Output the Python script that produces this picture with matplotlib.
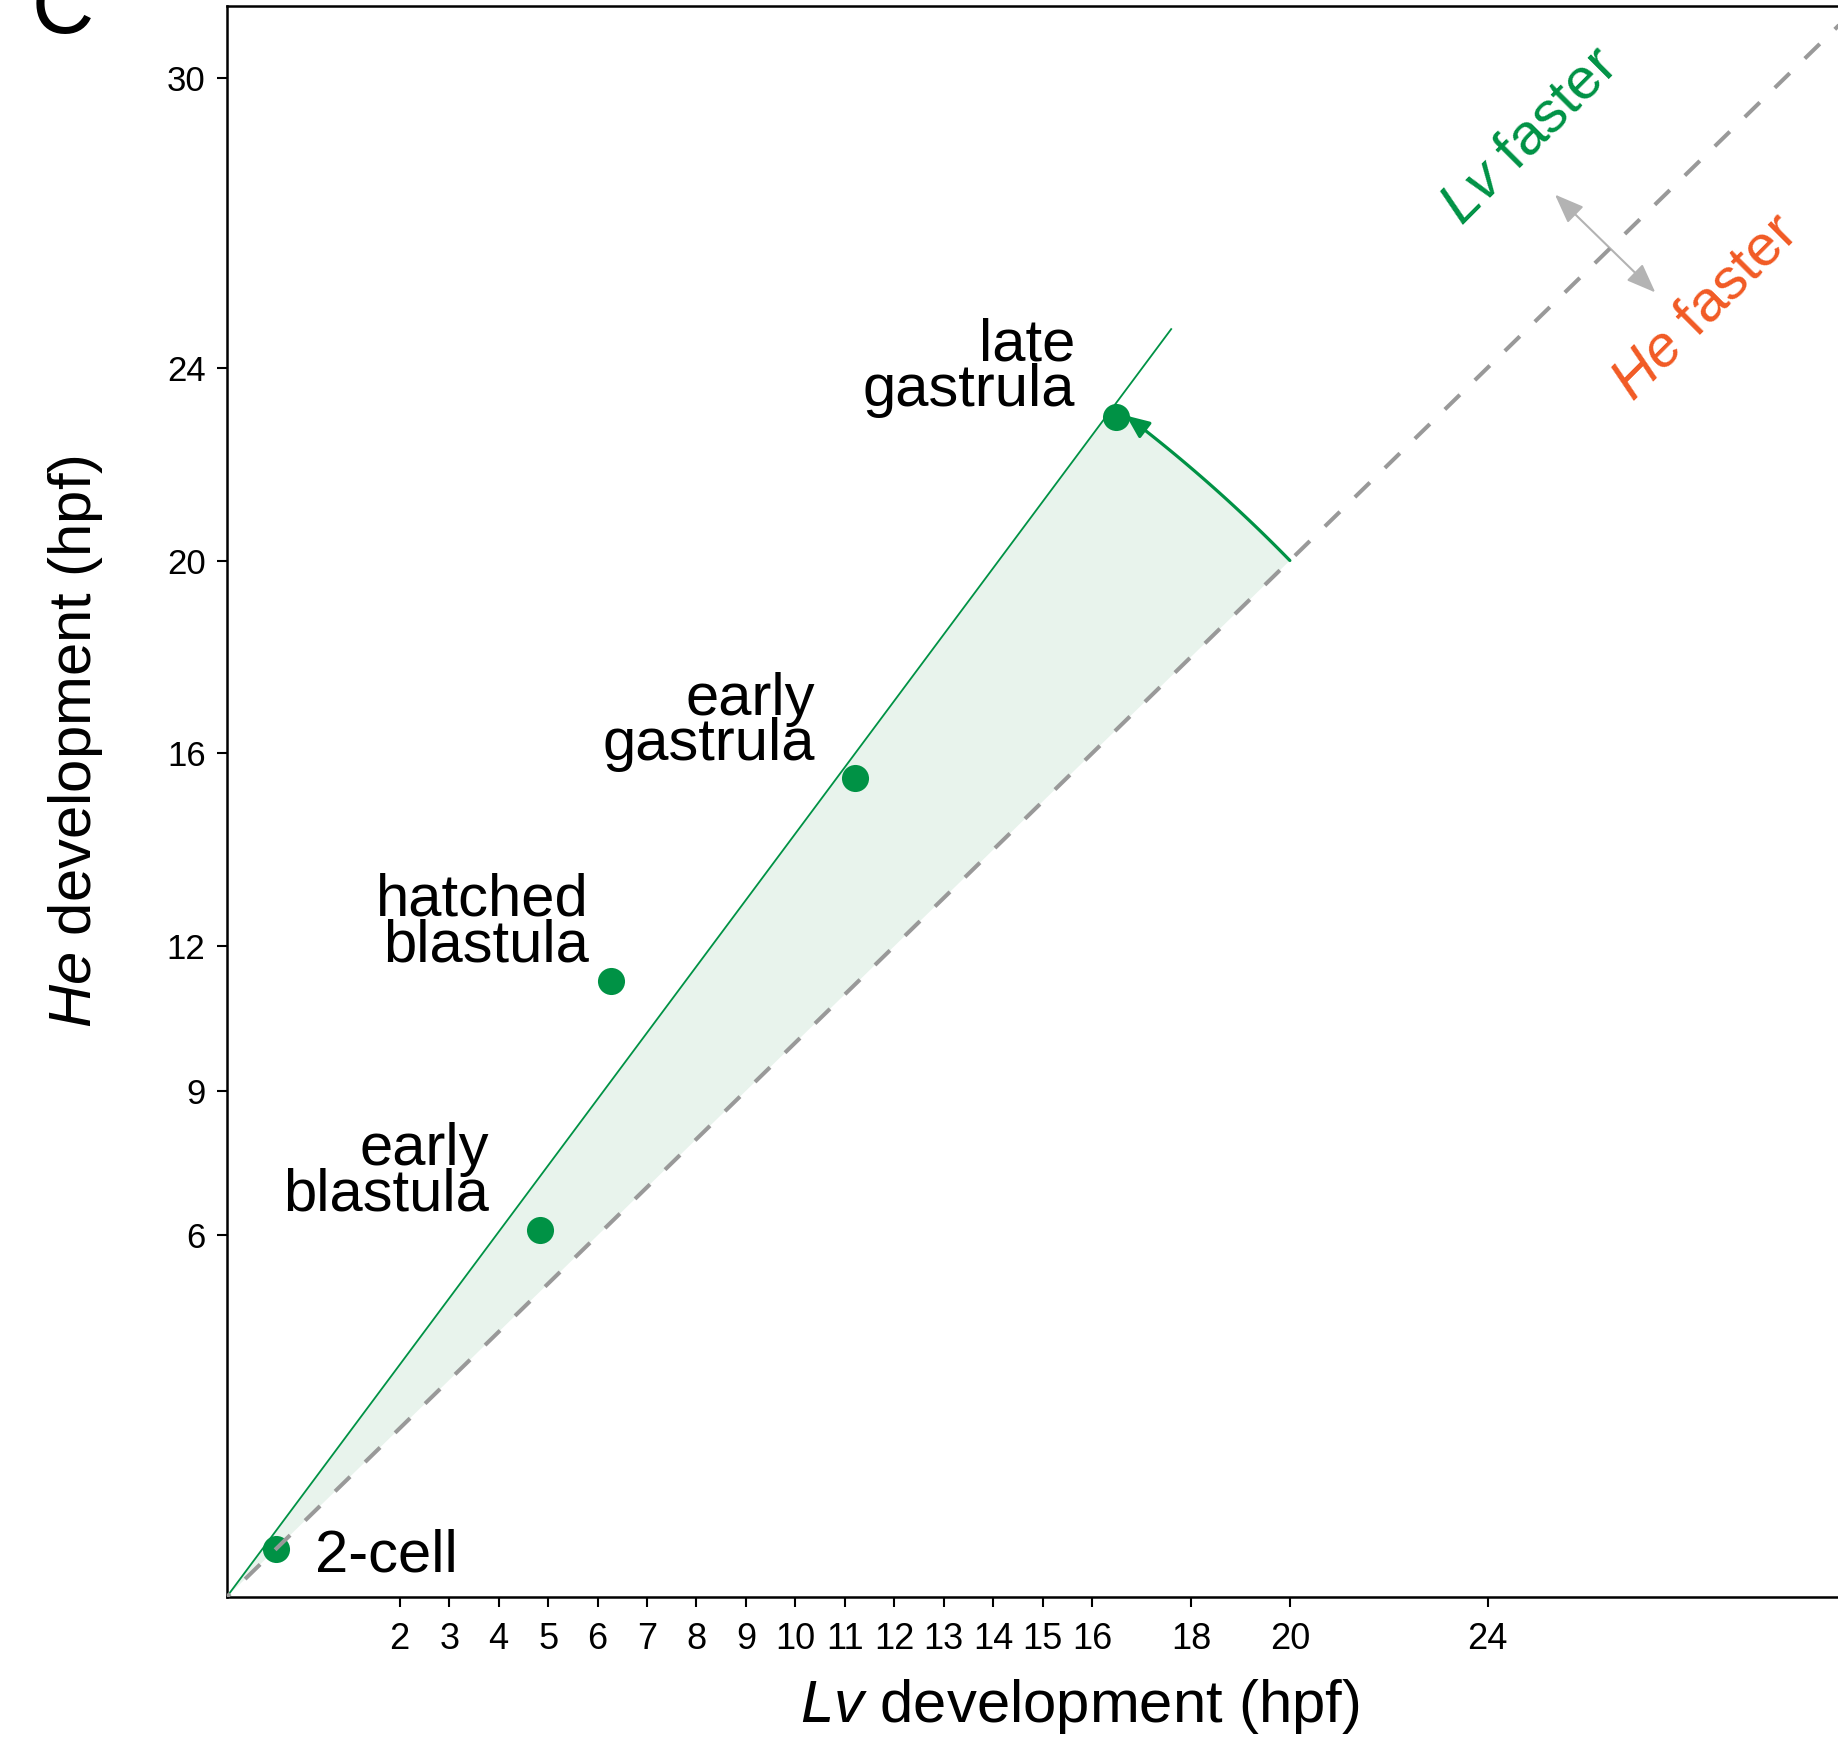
import numpy as np
import matplotlib
matplotlib.use('Agg')
import matplotlib.pyplot as plt
from matplotlib.patches import FancyArrowPatch, Polygon
from matplotlib.path import Path

plt.rcParams['font.family'] = ['Liberation Sans', 'DejaVu Sans']
plt.rcParams['mathtext.fontset'] = 'custom'
plt.rcParams['mathtext.rm'] = 'Liberation Sans'
plt.rcParams['mathtext.it'] = 'Liberation Sans:italic'

# stage timings (hpf)
stages = ['2-cell', 'early\nblastula', 'hatched\nblastula', 'early\ngastrula', 'late\ngastrula']
lv_hpf = [-0.5, 4.83, 6.27, 11.2, 16.48]
he_hpf = [-0.5, 6.11, 11.27, 15.48, 22.97]
label_x = [0.29, 3.81, 5.83, 10.40, 15.66]
label_y = [-0.98, 6.52, 11.69, 15.86, 23.21]

# Lv-faster trend line
trend_x = [-1.5, 17.6]
trend_y = [-1.5, 24.8]

xticks = [2, 3, 4, 5, 6, 7, 8, 9, 10, 11, 12, 13, 14, 15, 16, 18, 20, 24]
yticks = [6, 9, 12, 16, 20, 24, 30]

green = '#009245'
orange = '#f15a24'

fig = plt.figure(figsize=(18.38, 17.38), dpi=100)
ax = fig.add_axes([0.1233, 0.0811, 0.8879, 0.9154])
ax.set_xlim(-1.5, 31.5)
ax.set_ylim(-1.5, 31.5)

# shaded wedge between y = x and the trend line (circular in screen space)
to_disp = ax.transData
c = to_disp.transform((trend_x[0], trend_y[0]))
p_start = to_disp.transform((20, 20))
r = np.hypot(*(p_start - c))
a0 = np.arctan2(*(p_start - c)[::-1])
t_end = to_disp.transform((trend_x[1], trend_y[1]))
a1 = np.arctan2(*(t_end - c)[::-1])
angs = np.linspace(a0, a1, 60)
arc_disp = np.column_stack([c[0] + r * np.cos(angs), c[1] + r * np.sin(angs)])
arc_data = to_disp.inverted().transform(arc_disp)
wedge = np.vstack([[trend_x[0], trend_y[0]], arc_data])
ax.add_patch(Polygon(wedge, closed=True, facecolor='#e8f3ec', edgecolor='none', zorder=1))

ax.plot(trend_x, trend_y, color=green, lw=1.3, zorder=2)
ax.plot([-1.5, 31.5], [-1.5, 31.5], color='#999999', lw=2.9,
        linestyle=(4, (5.2, 5.2)), zorder=4)

ax.plot(lv_hpf, he_hpf, 'o', color=green, markersize=19.5, markeredgewidth=0, zorder=3)

# curved arrow along the wedge edge
a_tip = a1 - np.deg2rad(0.6)
angs2 = np.linspace(a0, a_tip, 60)
arr_disp = np.column_stack([c[0] + r * np.cos(angs2), c[1] + r * np.sin(angs2)])
arr_data = to_disp.inverted().transform(arr_disp)
ax.add_patch(FancyArrowPatch(path=Path(arr_data), arrowstyle='-|>,head_length=0.7,head_width=0.3',
                             mutation_scale=20, color=green, lw=2.3, zorder=3))

for name, lx, ly in zip(stages, label_x, label_y):
    ha = 'left' if name == '2-cell' else 'right'
    ax.text(lx, ly, name, ha=ha, va='baseline', fontsize=43, linespacing=0.78, zorder=5)

# direction hint
ax.annotate('', xy=(25.36, 27.59), xytext=(27.39, 25.56),
            arrowprops=dict(arrowstyle='<|-|>,head_length=0.9,head_width=0.35', color='#b3b3b3',
                            lw=1.5, mutation_scale=20, shrinkA=0, shrinkB=0))
ax.text(24.85, 28.8, r'$\it{Lv}$ faster', color=green, fontsize=42, rotation=45,
        rotation_mode='anchor', ha='center', va='center')
ax.text(28.4, 25.25, r'$\it{He}$ faster', color=orange, fontsize=42, rotation=45,
        rotation_mode='anchor', ha='center', va='center')

ax.set_xticks(xticks)
ax.set_yticks(yticks)
ax.tick_params(labelsize=25, length=7.2, width=1.5, pad=8)
ax.tick_params(axis='x', labelsize=26, pad=11)
for s in ax.spines.values():
    s.set_linewidth(1.8)

ax.set_xlabel(r'$\it{Lv}$ development (hpf)', fontsize=43)
ax.set_ylabel(r'$\it{He}$ development (hpf)', fontsize=43)
ax.xaxis.set_label_coords(0.523, -0.05)
ax.yaxis.set_label_coords(-0.0746, 0.538)

fig.text(0.0174, 0.981, 'C', fontsize=62, va='baseline')

fig.savefig('out.png', dpi=100)
